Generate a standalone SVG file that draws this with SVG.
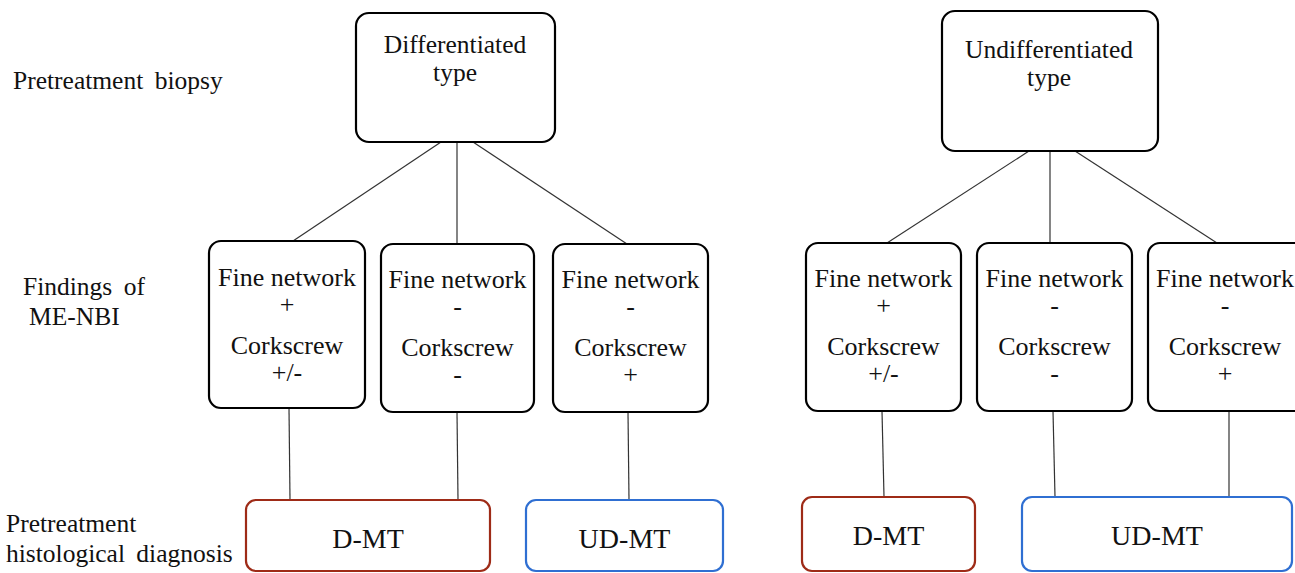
<svg xmlns="http://www.w3.org/2000/svg" width="1295" height="573" viewBox="0 0 1295 573">
<style>
  text { font-family: "Liberation Serif", "Times New Roman", serif; fill: #111; }
  .lbl { font-size: 25.5px; word-spacing: 5px; }
  .top { font-size: 25.5px; text-anchor: middle; }
  .mid { font-size: 26px; text-anchor: middle; }
  .res { font-size: 28px; text-anchor: middle; }
  .box { fill: #fff; stroke: #000; stroke-width: 2.2; }
  .red { fill: #fff; stroke: #9e2b17; stroke-width: 2.2; }
  .blue { fill: #fff; stroke: #2f6fd2; stroke-width: 2.2; }
  .conn line { stroke: #333; stroke-width: 1.2; }
</style>
<rect width="1295" height="573" fill="#fff"/>

<g id="labels">
  <text class="lbl" x="13" y="89">Pretreatment biopsy</text>
  <text class="lbl" x="23" y="295">Findings of</text>
  <text class="lbl" x="29" y="325">ME-NBI</text>
  <text class="lbl" x="6" y="532">Pretreatment</text>
  <text class="lbl" x="6" y="562">histological diagnosis</text>
</g>

<g id="connectors" class="conn">
  <line x1="441" y1="142" x2="293" y2="241"/>
  <line x1="457" y1="142" x2="457" y2="244"/>
  <line x1="473" y1="142" x2="627" y2="244"/>
  <line x1="1029" y1="151" x2="887" y2="243"/>
  <line x1="1050" y1="151" x2="1050" y2="243"/>
  <line x1="1075" y1="151" x2="1217" y2="243"/>
  <line x1="289" y1="408" x2="290" y2="500"/>
  <line x1="457" y1="412" x2="458" y2="500"/>
  <line x1="628" y1="412" x2="629" y2="500"/>
  <line x1="882" y1="411" x2="884" y2="497"/>
  <line x1="1053" y1="411" x2="1055" y2="497"/>
  <line x1="1229" y1="411" x2="1229" y2="497"/>
</g>

<g id="diff">
  <rect class="box" x="356" y="13" width="199" height="129" rx="13"/>
  <text class="top" x="455" y="53">Differentiated</text>
  <text class="top" x="455" y="81">type</text>
</g>
<g id="undiff">
  <rect class="box" x="942" y="11" width="216" height="140" rx="13"/>
  <text class="top" x="1049" y="58">Undifferentiated</text>
  <text class="top" x="1049" y="86">type</text>
</g>

<g id="l1">
  <rect class="box" x="209" y="241" width="156" height="167" rx="12"/>
  <text class="mid" x="287" y="286">Fine network</text>
  <text class="mid" x="287" y="313">+</text>
  <text class="mid" x="287" y="354">Corkscrew</text>
  <text class="mid" x="287" y="381">+/-</text>
</g>
<g id="l2">
  <rect class="box" x="381" y="244" width="153" height="168" rx="12"/>
  <text class="mid" x="457.5" y="288">Fine network</text>
  <text class="mid" x="457.5" y="315">-</text>
  <text class="mid" x="457.5" y="356">Corkscrew</text>
  <text class="mid" x="457.5" y="383">-</text>
</g>
<g id="l3">
  <rect class="box" x="553" y="244" width="155" height="168" rx="12"/>
  <text class="mid" x="630.5" y="288">Fine network</text>
  <text class="mid" x="630.5" y="315">-</text>
  <text class="mid" x="630.5" y="356">Corkscrew</text>
  <text class="mid" x="630.5" y="383">+</text>
</g>

<g id="r1">
  <rect class="box" x="806" y="243" width="155" height="168" rx="12"/>
  <text class="mid" x="883.5" y="287">Fine network</text>
  <text class="mid" x="883.5" y="314">+</text>
  <text class="mid" x="883.5" y="355">Corkscrew</text>
  <text class="mid" x="883.5" y="382">+/-</text>
</g>
<g id="r2">
  <rect class="box" x="977" y="243" width="155" height="168" rx="12"/>
  <text class="mid" x="1054.5" y="287">Fine network</text>
  <text class="mid" x="1054.5" y="314">-</text>
  <text class="mid" x="1054.5" y="355">Corkscrew</text>
  <text class="mid" x="1054.5" y="382">-</text>
</g>
<g id="r3">
  <rect class="box" x="1148" y="243" width="160" height="168" rx="12"/>
  <text class="mid" x="1225" y="287">Fine network</text>
  <text class="mid" x="1225" y="314">-</text>
  <text class="mid" x="1225" y="355">Corkscrew</text>
  <text class="mid" x="1225" y="382">+</text>
</g>

<g id="ldmt">
  <rect class="red" x="246" y="500" width="244" height="71" rx="10"/>
  <text class="res" x="368" y="548">D-MT</text>
</g>
<g id="ludmt">
  <rect class="blue" x="526" y="500" width="197" height="71" rx="10"/>
  <text class="res" x="624.5" y="548">UD-MT</text>
</g>
<g id="rdmt">
  <rect class="red" x="802" y="497" width="173" height="74" rx="10"/>
  <text class="res" x="888.5" y="545">D-MT</text>
</g>
<g id="rudmt">
  <rect class="blue" x="1022" y="497" width="270" height="74" rx="10"/>
  <text class="res" x="1157" y="545">UD-MT</text>
</g>
</svg>
